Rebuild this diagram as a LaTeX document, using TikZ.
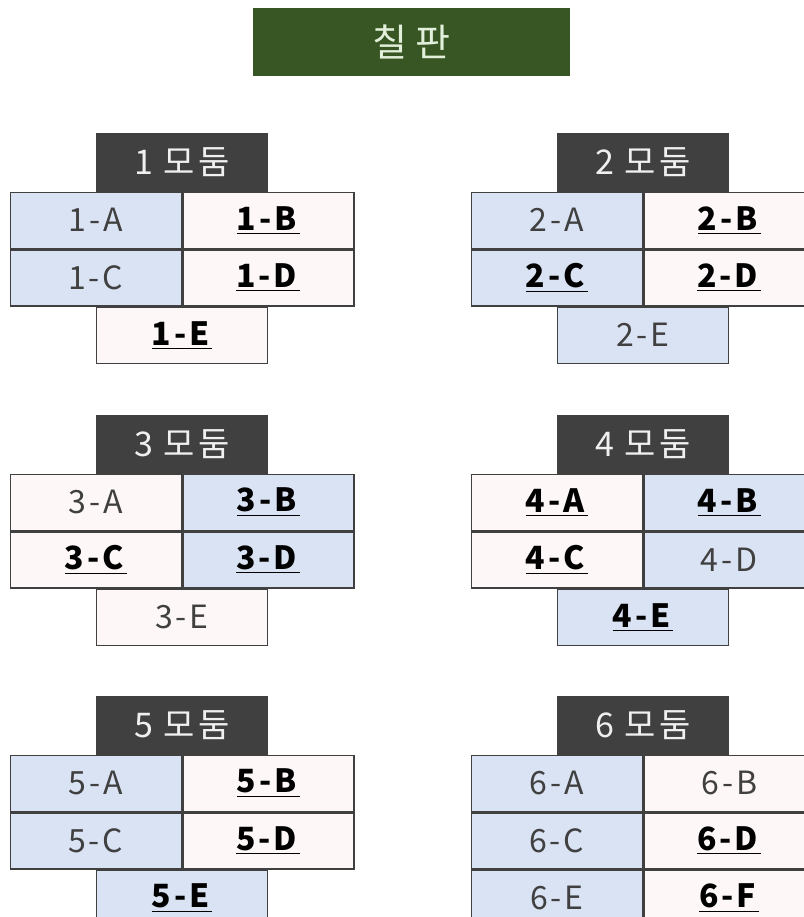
\documentclass[tikz,border=0pt]{standalone}
\usepackage{fontspec}
\setmainfont{Noto Sans CJK KR}
\newfontfamily\seatfont[LetterSpace=9]{Noto Sans CJK KR}
\usepackage{xcolor}
\usepackage{tikz}
\usetikzlibrary{positioning}
\definecolor{boardgreen}{HTML}{375623}
\definecolor{chalk}{HTML}{E2EFDA}
\definecolor{headgray}{HTML}{404040}
\definecolor{cellblue}{HTML}{DAE3F3}
\definecolor{cellpink}{HTML}{FDF8F7}
\newcommand{\pick}[1]{\textcolor{black}{\underline{\textbf{#1}}}}

\begin{document}
\begin{tikzpicture}[
    x=0.5pt, y=-0.5pt,
    node distance=0pt and 0pt,
    board/.style={fill=boardgreen, minimum width=158.5pt, minimum height=34pt, text=chalk, font=\fontsize{19}{22}\selectfont},
    hdr/.style={draw=headgray, fill=headgray, line width=0.75pt, minimum width=85.5pt, minimum height=28.5pt, inner sep=0pt, anchor=north, text=white!94!black, font=\seatfont\fontsize{17}{20}\selectfont},
    seat/.style={draw=headgray, line width=0.75pt, minimum width=85.5pt, minimum height=28pt, inner sep=0pt, text=headgray, font=\seatfont\fontsize{16}{19}\selectfont},
    bl/.style={seat, fill=cellblue},
    pk/.style={seat, fill=cellpink}
]
\useasboundingbox (0,0) rectangle (804,917);
\clip (0,0) rectangle (804,917);
\fill[white] (0,0) rectangle (804,917);

\node[board] (bd) at (411.5,42) {칠 판};

% 1 모둠
\node[hdr] (h1) at (182,133) {1 모둠};
\node[bl, below left=of h1.south] (a1) {1-A};
\node[pk, below right=of h1.south] (b1) {\pick{1-B}};
\node[bl, below=of a1] (c1) {1-C};
\node[pk, below=of b1] (d1) {\pick{1-D}};
\node[pk, below=of c1.south east] (e1) {\pick{1-E}};

% 2 모둠
\node[hdr] (h2) at (643,133) {2 모둠};
\node[bl, below left=of h2.south] (a2) {2-A};
\node[pk, below right=of h2.south] (b2) {\pick{2-B}};
\node[bl, below=of a2] (c2) {\pick{2-C}};
\node[pk, below=of b2] (d2) {\pick{2-D}};
\node[bl, below=of c2.south east] (e2) {2-E};

% 3 모둠
\node[hdr] (h3) at (182,415) {3 모둠};
\node[pk, below left=of h3.south] (a3) {3-A};
\node[bl, below right=of h3.south] (b3) {\pick{3-B}};
\node[pk, below=of a3] (c3) {\pick{3-C}};
\node[bl, below=of b3] (d3) {\pick{3-D}};
\node[pk, below=of c3.south east] (e3) {3-E};

% 4 모둠
\node[hdr] (h4) at (643,415) {4 모둠};
\node[pk, below left=of h4.south] (a4) {\pick{4-A}};
\node[bl, below right=of h4.south] (b4) {\pick{4-B}};
\node[pk, below=of a4] (c4) {\pick{4-C}};
\node[bl, below=of b4] (d4) {4-D};
\node[bl, below=of c4.south east] (e4) {\pick{4-E}};

% 5 모둠
\node[hdr] (h5) at (182,696) {5 모둠};
\node[bl, below left=of h5.south] (a5) {5-A};
\node[pk, below right=of h5.south] (b5) {\pick{5-B}};
\node[bl, below=of a5] (c5) {5-C};
\node[pk, below=of b5] (d5) {\pick{5-D}};
\node[bl, below=of c5.south east] (e5) {\pick{5-E}};

% 6 모둠
\node[hdr] (h6) at (643,696) {6 모둠};
\node[bl, below left=of h6.south] (a6) {6-A};
\node[pk, below right=of h6.south] (b6) {6-B};
\node[bl, below=of a6] (c6) {6-C};
\node[pk, below=of b6] (d6) {\pick{6-D}};
\node[bl, below=of c6] (e6) {6-E};
\node[pk, below=of d6] (f6) {\pick{6-F}};
\end{tikzpicture}
\end{document}
